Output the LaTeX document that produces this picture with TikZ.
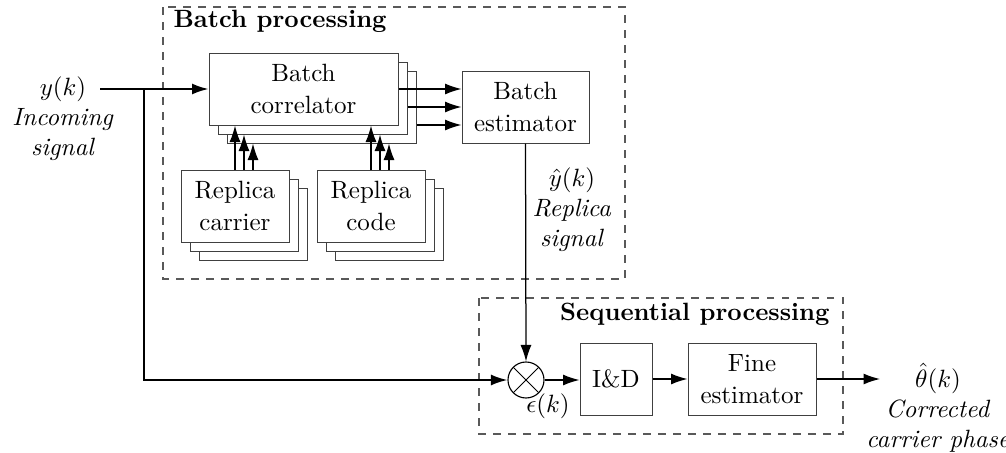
\documentclass[tikz,border=0pt]{standalone}
\usetikzlibrary{arrows.meta,calc}

\tikzset{
  tip/.style={-{Latex[length=6.6pt,width=4.4pt]}},
  blk/.style={draw=black!75, line width=0.4pt, fill=white, align=center,
              inner sep=0pt, minimum height=28.8pt, font=\fontsize{10}{12.8}\selectfont},
  grp/.style={draw=black!65, dashed, line width=0.5pt},
  arr/.style={line width=0.5pt, tip},
  sig/.style={line width=0.75pt, tip},
  lbl/.style={align=center, inner sep=0pt},
  mix/.style={draw, circle, minimum size=14.4pt, inner sep=0pt, line width=0.45pt,
              path picture={
                \draw[line width=0.4pt] (path picture bounding box.north west) -- (path picture bounding box.south east)
                      (path picture bounding box.north east) -- (path picture bounding box.south west);}},
}

\begin{document}
\begin{tikzpicture}[x=0.4pt,y=-0.4pt]
\useasboundingbox (0,0) rectangle (1006,453);

% processing groups
\draw[grp] (163,7) rectangle (625,279);
\node[anchor=west, inner sep=0pt] (tb) at (173,21) {\textbf{Batch processing}};
\draw[grp] (479,298) rectangle (843,434);
\node[anchor=east, inner sep=0pt] (ts) at (830,314) {\textbf{Sequential processing}};

% batch correlator bank
\node[blk, minimum width=75.6pt] (corr3) at (321.5,107) {};
\node[blk, minimum width=75.6pt] (corr2) at (312.5,98) {};
\node[blk, minimum width=75.6pt] (corr1) at (303.5,89) {Batch\\correlator};

% replica carrier bank
\node[blk, minimum width=43.2pt] (car3) at (253,224) {};
\node[blk, minimum width=43.2pt] (car2) at (244,215) {};
\node[blk, minimum width=43.2pt] (car1) at (235,206) {Replica\\carrier};

% replica code bank
\node[blk, minimum width=43.2pt] (cod3) at (389,224) {};
\node[blk, minimum width=43.2pt] (cod2) at (380,215) {};
\node[blk, minimum width=43.2pt] (cod1) at (371,206) {Replica\\code};

% batch estimator
\node[blk, minimum width=50.8pt] (est) at (525.5,107) {Batch\\estimator};

% sequential chain
\node[mix] (mx) at (526,380) {};
\node[blk, minimum width=28.8pt] (id) at (616,379) {I\&D};
\node[blk, minimum width=51.2pt] (fine) at (752,379) {Fine\\estimator};

% labels
\node[lbl] (yin) at (63,119) {$y(k)$\\\textit{Incoming}\\\textit{signal}};
\node[lbl] (yhat) at (572,210) {$\hat{y}(k)$\\\textit{Replica}\\\textit{signal}};
\node[lbl] (eps) at (548,406) {$\epsilon(k)$};
\node[lbl] (theta) at (938,408) {$\hat{\theta}(k)$\\\textit{Corrected}\\\textit{carrier phase}};

% input signal and its branch to the mixer
\coordinate (in) at (100,89);
\coordinate (br) at (144,89);
\coordinate (brd) at (144,380);
\draw[sig] (in) -- (corr1.west);
\draw[sig] (br) -- (brd) -- (mx.west);

% correlator outputs to estimator
\coordinate (e1) at ($(est.west)+(0,-18)$);
\coordinate (e2) at (est.west);
\coordinate (e3) at ($(est.west)+(0,18)$);
\draw[arr] (corr1.east |- e1) -- (e1);
\draw[arr] (corr2.east |- e2) -- (e2);
\draw[arr] (corr3.east |- e3) -- (e3);

% replicas into the correlators
\draw[arr] (car1.north) -- (car1.north |- corr1.south);
\draw[arr] (car2.center |- car1.north) -- (car2.center |- corr2.south);
\draw[arr] (car3.center |- car1.north) -- (car3.center |- corr3.south);
\draw[arr] (cod1.north) -- (cod1.north |- corr1.south);
\draw[arr] (cod2.center |- cod1.north) -- (cod2.center |- corr2.south);
\draw[arr] (cod3.center |- cod1.north) -- (cod3.center |- corr3.south);

% replica signal to mixer and sequential chain
\draw[arr] (est.south) -- (mx.north);
\draw[arr] (mx.east) -- (id.west |- mx.east);
\draw[arr] (id.east) -- (fine.west);
\coordinate (out) at (880,379);
\draw[arr] (fine.east) -- (out);
\end{tikzpicture}
\end{document}
